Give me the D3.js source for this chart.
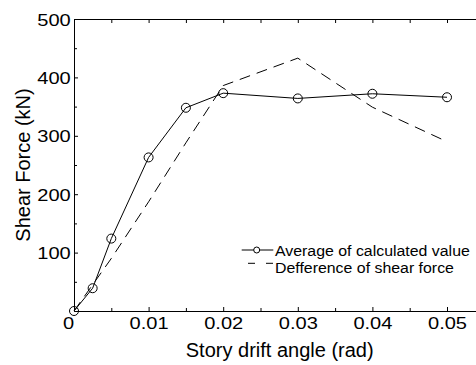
<!DOCTYPE html>
<html>
<head>
<meta charset="utf-8">
<script src="https://cdn.jsdelivr.net/npm/d3@7"></script>
<style>
    body { margin: 0; background: #fff; }
    svg { display: block; font-family: "Liberation Sans", Arial, sans-serif; }
</style>
</head>
<body>
<svg id="chart" width="476" height="365"></svg>
<script>
const driftAngle = [0, 0.0025, 0.005, 0.01, 0.015, 0.02, 0.03, 0.04, 0.05];
const avgCalculated = [0, 39, 124, 263, 348, 373, 364, 372, 366];
const shearDifference = [0, 45, 90, 187, 288, 386, 433, 349, 290];

const xTicks = [0, 0.01, 0.02, 0.03, 0.04, 0.05];
const xMinorTicks = [0.005, 0.015, 0.025, 0.035, 0.045];
const yTicks = [100, 200, 300, 400, 500];
const yMinorTicks = [50, 150, 250, 350, 450];

const legendLabels = ["Average of calculated value", "Defference of shear force"];

const plotLeft = 74, plotTop = 19, plotBottom = 311;
const stretch = 1.18; // tick labels in the picture are wider than Arial

const svg = d3.select("#chart");

const xScale = d3.scaleLinear().domain([0, 0.055]).range([plotLeft, plotLeft + 0.055 * 7460]);
const yScale = d3.scaleLinear().domain([0, 500]).range([plotBottom, plotTop]);

// bottom axis
const gx = svg.append("g")
    .attr("transform", `translate(0, ${plotBottom})`)
    .call(d3.axisBottom(xScale).tickValues(xTicks).tickSizeInner(-4).tickSizeOuter(0)
        .tickFormat(function (d) { return d === 0 ? "0" : d3.format(".2f")(d); }));
gx.selectAll("text")
    .attr("y", 17.7).attr("dy", null)
    .attr("x", function (d) { return d === 0 ? -6 / stretch : 0; })
    .attr("transform", `scale(${stretch},1)`);
svg.append("g")
    .attr("transform", `translate(0, ${plotBottom})`)
    .call(d3.axisBottom(xScale).tickValues(xMinorTicks).tickSizeInner(-3).tickSizeOuter(0).tickFormat(""));

// top axis
svg.append("g")
    .attr("transform", `translate(0, ${plotTop})`)
    .call(d3.axisTop(xScale).tickValues(xTicks.concat(xMinorTicks)).tickSizeInner(-4).tickSizeOuter(0).tickFormat(""));

// left axis
const gy = svg.append("g")
    .attr("transform", `translate(${plotLeft}, 0)`)
    .call(d3.axisLeft(yScale).tickValues(yTicks).tickSizeInner(-4).tickSizeOuter(0));
gy.selectAll("text")
    .attr("x", -3.3 / stretch).attr("dy", "0.36em")
    .attr("transform", `scale(${stretch},1)`);
svg.append("g")
    .attr("transform", `translate(${plotLeft}, 0)`)
    .call(d3.axisLeft(yScale).tickValues(yMinorTicks).tickSizeInner(-3).tickSizeOuter(0).tickFormat(""));

svg.selectAll(".tick text")
    .style("font-size", "17px")
    .style("font-family", "'Liberation Sans', Arial, sans-serif")
    .attr("fill", "#000");
svg.selectAll(".domain, .tick line").attr("stroke", "#000");

// axis titles
svg.append("text")
    .attr("x", 279.7).attr("y", 357)
    .attr("text-anchor", "middle")
    .style("font-size", "20px")
    .text("Story drift angle (rad)");
svg.append("text")
    .attr("transform", "translate(30, 165) rotate(-90)")
    .attr("text-anchor", "middle")
    .style("font-size", "20px")
    .text("Shear Force (kN)");

// series
const avgPoints = driftAngle.map(function (d, i) { return [d, avgCalculated[i]]; });
const diffPoints = driftAngle.map(function (d, i) { return [d, shearDifference[i]]; });
const line = d3.line()
    .x(function (d) { return xScale(d[0]); })
    .y(function (d) { return yScale(d[1]); });

svg.append("path")
    .datum(diffPoints)
    .attr("d", line)
    .attr("fill", "none")
    .attr("stroke", "#000")
    .attr("stroke-width", 1)
    .attr("stroke-dasharray", "11,7");

svg.append("path")
    .datum(avgPoints)
    .attr("d", line)
    .attr("fill", "none")
    .attr("stroke", "#000")
    .attr("stroke-width", 1);

svg.selectAll(".marker")
    .data(avgPoints)
    .join("circle")
    .attr("class", "marker")
    .attr("cx", function (d) { return xScale(d[0]); })
    .attr("cy", function (d) { return yScale(d[1]); })
    .attr("r", 4.5)
    .attr("fill", "none")
    .attr("stroke", "#000");

// legend
const legend = svg.append("g").attr("transform", "translate(241.7, 250)");
legend.append("line")
    .attr("x1", 0).attr("x2", 31.6).attr("y1", 0).attr("y2", 0)
    .attr("stroke", "#000");
legend.append("circle")
    .attr("cx", 15).attr("cy", 0).attr("r", 3)
    .attr("fill", "#fff").attr("stroke", "#000");
legend.append("line")
    .attr("x1", 0).attr("x2", 31.6).attr("y1", 13.3).attr("y2", 13.3)
    .attr("stroke", "#000")
    .attr("stroke-dasharray", "7,11")
    .attr("stroke-dashoffset", 11.7);
legend.selectAll(".label")
    .data(legendLabels)
    .join("text")
    .attr("class", "label")
    .attr("transform", function (d, i) { return `translate(33.3, ${5.7 + i * 17}) scale(1.06,1)`; })
    .style("font-size", "15px")
    .text(function (d) { return d; });
</script>
</body>
</html>
